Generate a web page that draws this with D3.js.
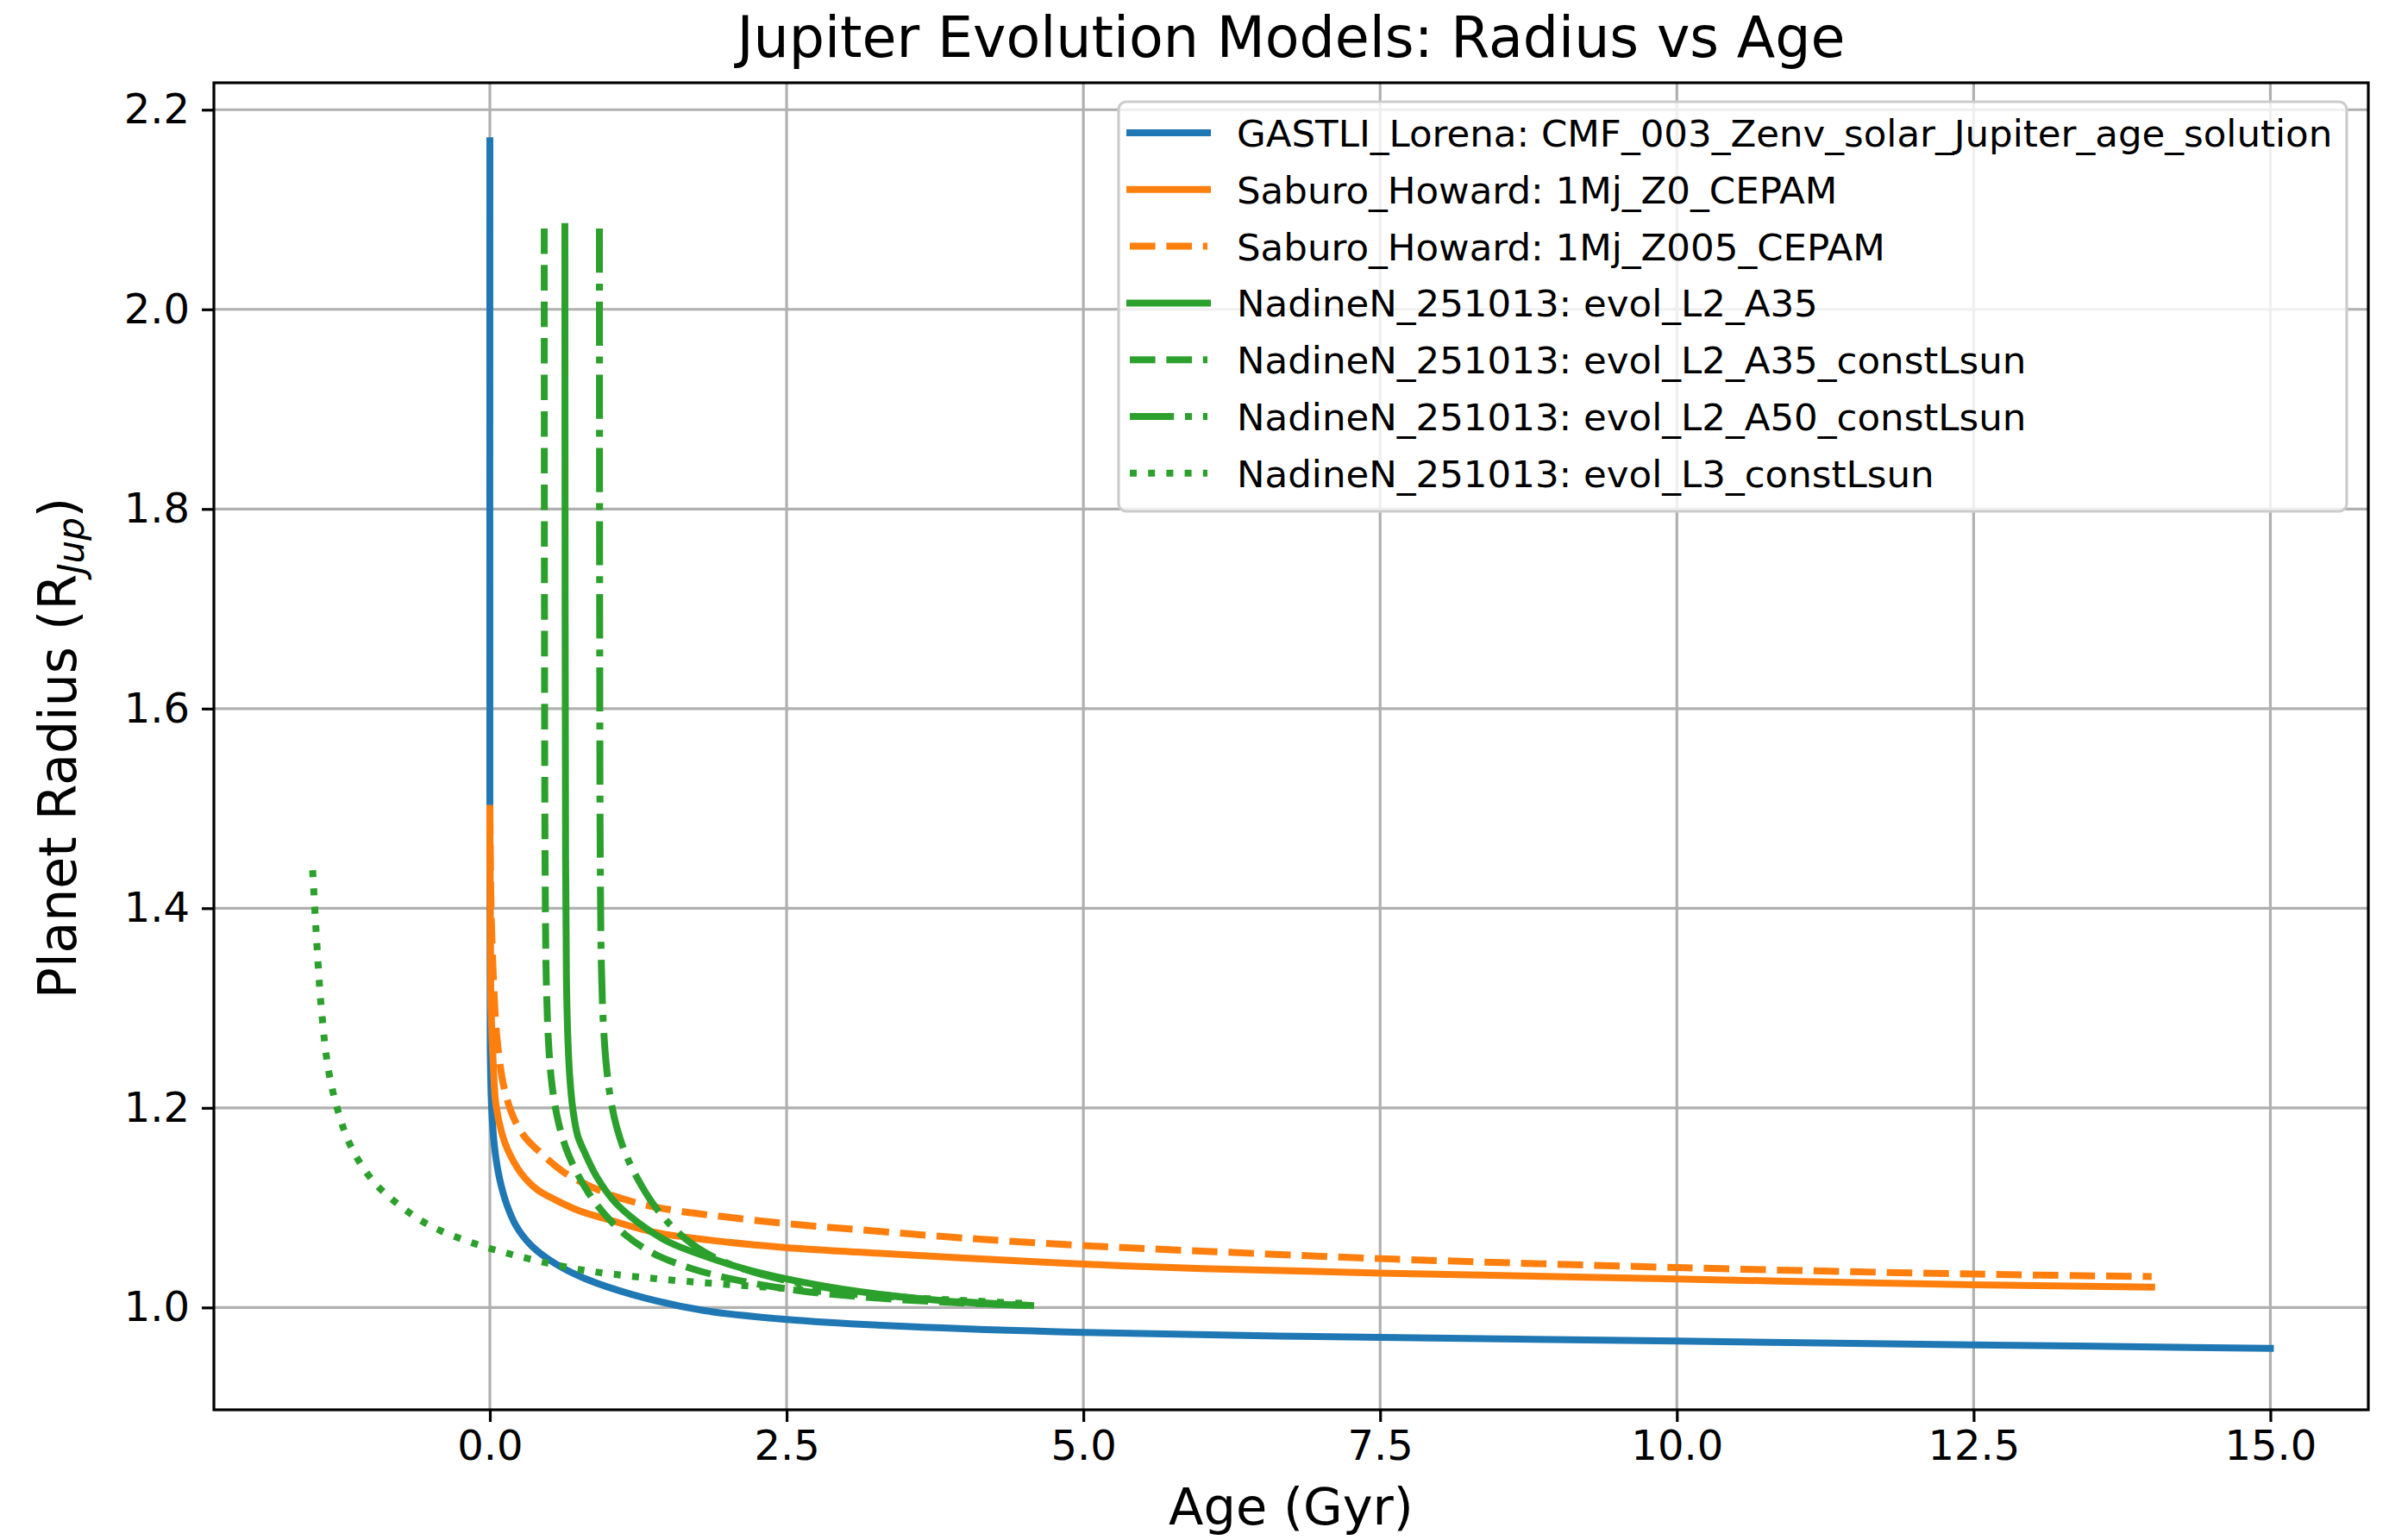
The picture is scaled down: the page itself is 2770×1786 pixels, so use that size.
<!DOCTYPE html>
<html>
<head>
<meta charset="utf-8">
<script src="https://cdn.jsdelivr.net/npm/d3@7"></script>
<style>
  html, body { margin: 0; padding: 0; background: #ffffff; }
  svg { display: block; font-family: "DejaVu Sans", sans-serif; }
</style>
</head>
<body>
<svg id="chart" width="2770" height="1786"></svg>
<script>
// ---------------- data ----------------
const chartTitle = "Jupiter Evolution Models: Radius vs Age";
const xLabel = "Age (Gyr)";
const xTicks = [0, 2.5, 5, 7.5, 10, 12.5, 15];
const yTicks = [1.0, 1.2, 1.4, 1.6, 1.8, 2.0, 2.2];
const xDomain = [-2.325, 15.825];
const yDomain = [0.8975, 2.227];

const seriesLabels = [
  "GASTLI_Lorena: CMF_003_Zenv_solar_Jupiter_age_solution",
  "Saburo_Howard: 1Mj_Z0_CEPAM",
  "Saburo_Howard: 1Mj_Z005_CEPAM",
  "NadineN_251013: evol_L2_A35",
  "NadineN_251013: evol_L2_A35_constLsun",
  "NadineN_251013: evol_L2_A50_constLsun",
  "NadineN_251013: evol_L3_constLsun"
];
const seriesColors = ["#1f77b4", "#ff7f0e", "#ff7f0e", "#2ca02c", "#2ca02c", "#2ca02c", "#2ca02c"];
const seriesStyles = ["solid", "solid", "dashed", "solid", "dashed", "dashdot", "dotted"];

const gastliAge    = [0, 0, 0.003, 0.015, 0.04, 0.08, 0.14, 0.22, 0.35, 0.55, 0.8, 1.2, 1.8, 2.5, 3.5, 5.0, 7.5, 10.0, 12.5, 15.0];
const gastliRadius = [2.169, 1.5, 1.26, 1.20, 1.16, 1.13, 1.104, 1.082, 1.062, 1.044, 1.029, 1.013, 0.997, 0.988, 0.981, 0.975, 0.970, 0.9663, 0.9626, 0.959];

const z0Age    = [0, 0.005, 0.01, 0.03, 0.05, 0.1, 0.15, 0.26, 0.4, 0.55, 0.75, 1.0, 1.4, 2.0, 2.5, 3.1, 4.0, 5.0, 6.0, 7.5, 10.0, 12.5, 14.0];
const z0Radius = [1.5, 1.35, 1.30, 1.24, 1.204, 1.175, 1.158, 1.135, 1.118, 1.108, 1.097, 1.088, 1.075, 1.0655, 1.060, 1.0555, 1.0495, 1.0435, 1.039, 1.0345, 1.0285, 1.0228, 1.0204];

const z005Age    = [0, 0.01, 0.03, 0.06, 0.12, 0.2, 0.3, 0.4, 0.63, 0.97, 1.3, 1.6, 2.0, 2.5, 3.1, 4.0, 5.0, 6.0, 7.5, 10.0, 12.5, 14.0];
const z005Radius = [1.5, 1.40, 1.33, 1.27, 1.22, 1.19, 1.17, 1.158, 1.135, 1.115, 1.103, 1.0965, 1.0905, 1.084, 1.078, 1.0695, 1.062, 1.0565, 1.049, 1.040, 1.0335, 1.031];

const a35Age    = [0.632, 0.634, 0.638, 0.645, 0.657, 0.675, 0.70, 0.74, 0.80, 0.90, 1.05, 1.25, 1.5, 1.8, 2.2, 2.7, 3.3, 3.9, 4.556];
const a35Radius = [2.083, 1.70, 1.45, 1.33, 1.27, 1.228, 1.198, 1.172, 1.155, 1.131, 1.106, 1.085, 1.066, 1.052, 1.037, 1.024, 1.013, 1.006, 1.002];

const a35cAge    = [0.458, 0.460, 0.465, 0.475, 0.492, 0.515, 0.545, 0.585, 0.64, 0.72, 0.83, 0.97, 1.15, 1.38, 1.7, 2.1, 2.6, 3.2, 3.9, 4.55];
const a35cRadius = [2.081, 1.70, 1.45, 1.33, 1.27, 1.232, 1.205, 1.182, 1.160, 1.138, 1.115, 1.093, 1.072, 1.054, 1.039, 1.027, 1.017, 1.010, 1.005, 1.002];

const a50cAge    = [0.923, 0.925, 0.930, 0.940, 0.958, 0.985, 1.02, 1.07, 1.14, 1.24, 1.38, 1.56, 1.8, 2.1, 2.5, 3.0, 3.6, 4.55];
const a50cRadius = [2.081, 1.70, 1.45, 1.34, 1.28, 1.238, 1.207, 1.180, 1.155, 1.130, 1.103, 1.078, 1.056, 1.040, 1.027, 1.017, 1.009, 1.002];

const l3Age    = [-1.493, -1.464, -1.42, -1.36, -1.277, -1.173, -0.986, -0.736, -0.487, -0.154, 0.22, 0.76, 1.385, 2.01, 2.5, 3.0, 3.5, 4.0, 4.5];
const l3Radius = [1.438, 1.377, 1.30, 1.238, 1.196, 1.162, 1.127, 1.10, 1.081, 1.065, 1.052, 1.038, 1.029, 1.023, 1.019, 1.014, 1.010, 1.007, 1.004];

const seriesAges  = [gastliAge, z0Age, z005Age, a35Age, a35cAge, a50cAge, l3Age];
const seriesRadii = [gastliRadius, z0Radius, z005Radius, a35Radius, a35cRadius, a50cRadius, l3Radius];

// ---------------- layout ----------------
const M = { left: 248, top: 96, right: 2746, bottom: 1635 };
const LW = 8;
const dashMap = {
  solid: null,
  dashed: [29.6, 12.8],
  dashdot: [51.2, 12.8, 8, 12.8],
  dotted: [8, 13.2]
};

const svg = d3.select("#chart");
const x = d3.scaleLinear().domain(xDomain).range([M.left, M.right]);
const y = d3.scaleLinear().domain(yDomain).range([M.bottom, M.top]);

// grid
const grid = svg.append("g");
grid.selectAll("line.vx").data(xTicks).join("line")
  .attr("x1", d => x(d)).attr("x2", d => x(d))
  .attr("y1", M.top).attr("y2", M.bottom)
  .attr("stroke", "#b0b0b0").attr("stroke-width", 3.2);
grid.selectAll("line.hy").data(yTicks).join("line")
  .attr("y1", d => y(d)).attr("y2", d => y(d))
  .attr("x1", M.left).attr("x2", M.right)
  .attr("stroke", "#b0b0b0").attr("stroke-width", 3.2);

// clip
svg.append("clipPath").attr("id", "clip").append("rect")
  .attr("x", M.left).attr("y", M.top).attr("width", M.right - M.left).attr("height", M.bottom - M.top);

// lines
const line = d3.line().x(d => x(d[0])).y(d => y(d[1])).curve(d3.curveCatmullRom.alpha(0.5));
const lines = svg.append("g").attr("clip-path", "url(#clip)");
seriesLabels.forEach((lab, i) => {
  const pts = seriesAges[i].map((a, j) => [a, seriesRadii[i][j]]);
  const p = lines.append("path").datum(pts)
    .attr("d", line)
    .attr("fill", "none")
    .attr("stroke", seriesColors[i])
    .attr("stroke-width", LW)
    .attr("stroke-linejoin", "round")
    .attr("stroke-linecap", seriesStyles[i] === "solid" ? "square" : "butt");
  if (dashMap[seriesStyles[i]]) p.attr("stroke-dasharray", dashMap[seriesStyles[i]].join(","));
});

// axes
const xAxis = d3.axisBottom(x).tickValues(xTicks).tickFormat(d3.format(".1f")).tickSize(14).tickPadding(10);
const yAxis = d3.axisLeft(y).tickValues(yTicks).tickFormat(d3.format(".1f")).tickSize(14).tickPadding(14);

const gx = svg.append("g").attr("transform", `translate(0,${M.bottom})`).call(xAxis);
const gy = svg.append("g").attr("transform", `translate(${M.left},0)`).call(yAxis);
[gx, gy].forEach(g => {
  g.select(".domain").remove();
  g.selectAll(".tick line").attr("stroke", "#000").attr("stroke-width", 3.2);
  g.selectAll(".tick text").attr("fill", "#000").attr("font-size", 48).attr("font-family", "DejaVu Sans");
});

// spines
svg.append("rect")
  .attr("x", M.left).attr("y", M.top)
  .attr("width", M.right - M.left).attr("height", M.bottom - M.top)
  .attr("fill", "none").attr("stroke", "#000").attr("stroke-width", 3.2);

// title & labels
svg.append("text").attr("x", (M.left + M.right) / 2).attr("y", 66)
  .attr("text-anchor", "middle").attr("font-size", 65).attr("fill", "#000").text(chartTitle);
svg.append("text").attr("x", (M.left + M.right) / 2).attr("y", 1768)
  .attr("text-anchor", "middle").attr("font-size", 59).attr("fill", "#000").text(xLabel);
const yl = svg.append("text")
  .attr("transform", `translate(88,${(M.top + M.bottom) / 2 + 2}) rotate(-90)`)
  .attr("text-anchor", "middle").attr("font-size", 60).attr("fill", "#000");
yl.append("tspan").text("Planet Radius (R");
yl.append("tspan").attr("font-size", 42).attr("font-style", "italic").attr("dy", 9).text("Jup");
yl.append("tspan").attr("dy", -9).text(")");

// legend
const LG = { x: 1297, y: 118, w: 1424, h: 475, row0: 154, rowStep: 65.8, fs: 43.5 };
const lg = svg.append("g");
lg.append("rect").attr("x", LG.x).attr("y", LG.y).attr("width", LG.w).attr("height", LG.h)
  .attr("rx", 9).attr("ry", 9)
  .attr("fill", "#ffffff").attr("fill-opacity", 0.8)
  .attr("stroke", "#cccccc").attr("stroke-width", 3.2);
seriesLabels.forEach((lab, i) => {
  const cy = LG.row0 + i * LG.rowStep;
  const h = lg.append("line")
    .attr("x1", 1310).attr("x2", 1400).attr("y1", cy).attr("y2", cy)
    .attr("stroke", seriesColors[i]).attr("stroke-width", LW)
    .attr("stroke-linecap", seriesStyles[i] === "solid" ? "square" : "butt");
  if (dashMap[seriesStyles[i]]) h.attr("stroke-dasharray", dashMap[seriesStyles[i]].join(","));
  lg.append("text").attr("x", 1434).attr("y", cy + 16)
    .attr("font-size", LG.fs).attr("fill", "#000").text(lab);
});
</script>
</body>
</html>
